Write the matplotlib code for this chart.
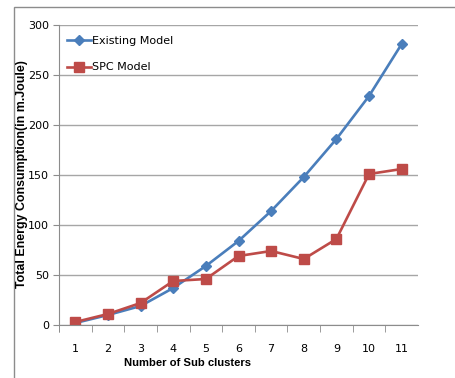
import matplotlib
matplotlib.use("Agg")
import matplotlib.pyplot as plt
from matplotlib.patches import Rectangle

clusters = [1, 2, 3, 4, 5, 6, 7, 8, 9, 10, 11]
existing = [2, 10, 19, 37, 59, 84, 114, 148, 186, 229, 281]
spc = [3, 11, 22, 44, 46, 69, 74, 66, 86, 151, 156]

blue = "#4a7ebb"
red = "#be4b48"

fig = plt.figure(figsize=(4.55, 3.78), dpi=100)
fig.patches.append(Rectangle((14 / 455, -0.1), 1.2, 1 - 7 / 378 + 0.1,
                             transform=fig.transFigure, fill=False,
                             edgecolor="#8c8c8c", linewidth=1.0))

ax = fig.add_axes([59 / 455, 1 - 325 / 378, (418 - 59) / 455, 300 / 378])
ax.plot(clusters, existing, color=blue, lw=1.9, marker="D", ms=5.5,
        label="Existing Model")
ax.plot(clusters, spc, color=red, lw=1.9, marker="s", ms=7.5,
        label="SPC Model")

ax.set_xlim(0.5, 11.5)
ax.set_ylim(0, 300)
ax.set_yticks(range(0, 301, 50))
ax.set_xticks(clusters)
ax.set_xticks([x + 0.5 for x in range(0, 11)] + [0.5], minor=True)
ax.tick_params(axis="x", which="major", length=0, pad=14, labelsize=8)
ax.tick_params(axis="x", which="minor", length=5, color="#8c8c8c", direction="out")
ax.tick_params(axis="y", length=4, color="#8c8c8c", labelsize=8, pad=3)
ax.yaxis.grid(True, color="#a6a6a6", lw=1)
ax.set_axisbelow(True)
for s in ["top", "right"]:
    ax.spines[s].set_visible(False)
for s in ["left", "bottom"]:
    ax.spines[s].set_color("#8c8c8c")

leg = ax.legend(loc="upper left", bbox_to_anchor=(0.0, 0.99), frameon=False,
                fontsize=8, handlelength=2.2, handletextpad=0.1,
                labelspacing=1.5, borderaxespad=0.3)

lab_font = dict(family=["Liberation Sans Narrow", "Liberation Sans", "DejaVu Sans"],
                weight="bold")
fig.text(187 / 455, 1 - 363 / 378, "Number of Sub clusters", ha="center",
         va="center", fontsize=8.1, **lab_font)
fig.text(22 / 455, 1 - 174 / 378, "Total Energy Consumption(in m.Joule)",
         ha="center", va="center", rotation=90, fontsize=8.9, **lab_font)

fig.savefig("out.png", dpi=100)
